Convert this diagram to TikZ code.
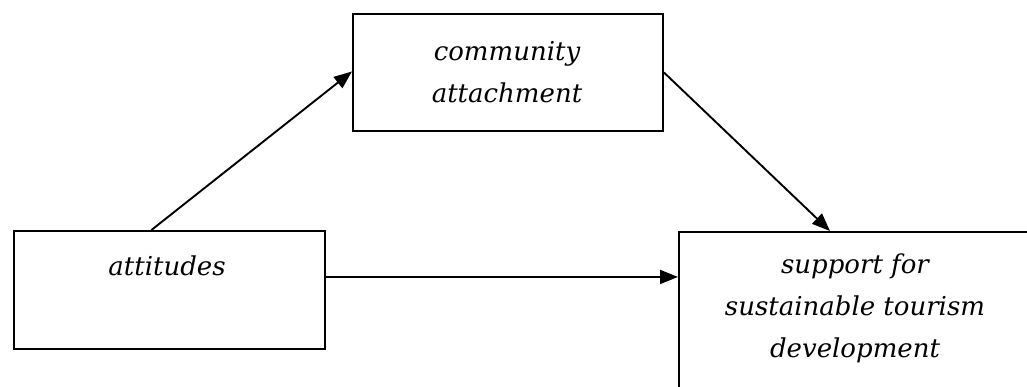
\documentclass[tikz,border=0pt]{standalone}
\usepackage{fontspec}
\setmainfont{DejaVu Serif}
\usetikzlibrary{arrows.meta,calc}
\begin{document}
\begin{tikzpicture}[x=1pt,y=-1pt,
  box/.style={draw=black,line width=1.9pt,fill=white,inner sep=0pt},
  txt/.style={font=\fontsize{26}{42}\selectfont\itshape,align=center,inner sep=0pt},
  arr/.style={draw=black,line width=1.9pt,-{Triangle[length=18pt,width=14pt]}}]
  \useasboundingbox (0,0) rectangle (1027,387);
  \clip (0,0) rectangle (1027,387);
  \fill[white] (0,0) rectangle (1027,387);

  % boxes
  \node[box,minimum width=311pt,minimum height=118pt,anchor=north west] (att) at (13,230) {};
  \node[box,minimum width=310pt,minimum height=117pt,anchor=north west] (com) at (352,13) {};
  \node[box,minimum width=362pt,minimum height=190pt,anchor=north west] (sup) at (678,231) {};

  % labels
  \node[txt] (attT) at (167,266) {attitudes};
  \node[txt] (comT) at (507,72) {community\\attachment};
  \node[txt] (supT) at (855,308) {support for\\sustainable tourism\\development};

  % paths
  \draw[arr] ([xshift=-18pt]att.north) -- ([yshift=1pt]com.west);
  \draw[arr] (com.east) -- ([xshift=152pt]sup.north west);
  \draw[arr] ([yshift=13pt]att.east) -- ([yshift=13pt]att.east -| sup.west);
\end{tikzpicture}
\end{document}
